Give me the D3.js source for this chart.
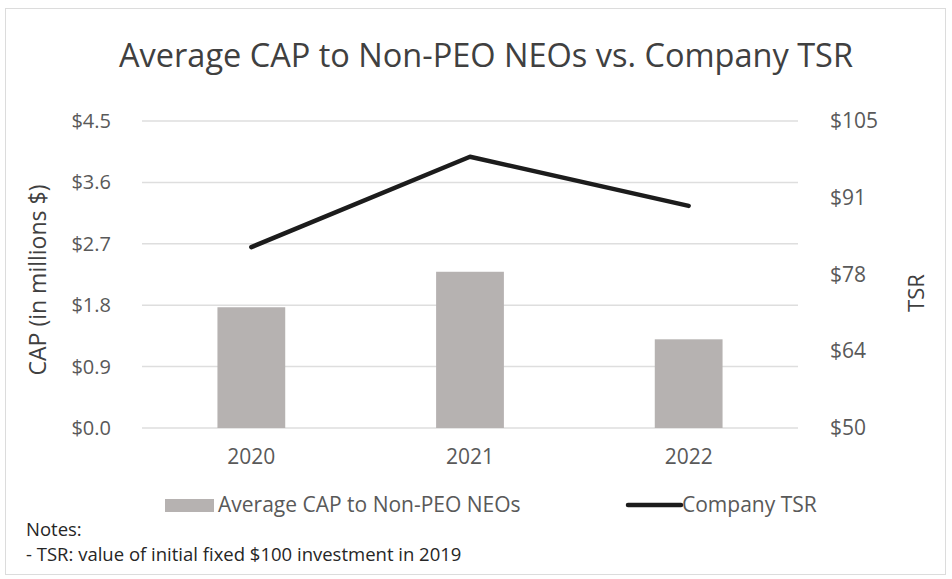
<!DOCTYPE html>
<html>
<head>
<meta charset="utf-8">
<script src="https://cdn.jsdelivr.net/npm/d3@7"></script>
<style>
  body { margin: 0; background: #fff; }
  text { font-family: "Open Sans", "DejaVu Sans", sans-serif; }
</style>
</head>
<body>
<script>
// chart values
var years = ["2020", "2021", "2022"];
var capValues = [1.77, 2.29, 1.30];       // Average CAP to Non-PEO NEOs, millions $
var tsrValues = [82.4, 98.6, 89.8];       // Company TSR
var capTicks = [0, 0.9, 1.8, 2.7, 3.6, 4.5];
var tsrTicks = [50, 63.75, 77.5, 91.25, 105];

var width = 952, height = 579;
var plotLeft = 142, plotRight = 798, plotTop = 121, plotBottom = 428;

var canvas = d3.select("body").append("svg")
    .attr("width", width)
    .attr("height", height);

window.onload = function(){
    setup();
};

function setup(){
    drawFrame();
    drawChart();
    drawLegend();
    drawNotes();
}

function drawFrame(){
    canvas.append("rect")
        .attr("x", 5.5)
        .attr("y", 8.5)
        .attr("width", 940)
        .attr("height", 566)
        .attr("fill", "#fff")
        .attr("stroke", "#dcdcdc");

    canvas.append("text")
        .attr("x", 486)
        .attr("y", 67)
        .attr("text-anchor", "middle")
        .attr("font-size", 32.5)
        .attr("fill", "#404040")
        .text("Average CAP to Non-PEO NEOs vs. Company TSR");
}

function drawChart(){
    var x = d3.scaleBand()
        .domain(years)
        .range([plotLeft, plotRight])
        .paddingInner(0.69)
        .paddingOuter(0.345);

    var yCap = d3.scaleLinear()
        .domain([0, 4.5])
        .range([plotBottom, plotTop]);

    var yTsr = d3.scaleLinear()
        .domain([50, 105])
        .range([plotBottom, plotTop]);

    // gridlines
    canvas.append("g")
        .selectAll("line")
        .data(capTicks)
        .enter().append("line")
        .attr("x1", plotLeft)
        .attr("x2", plotRight)
        .attr("y1", function(d){ return yCap(d); })
        .attr("y2", function(d){ return yCap(d); })
        .attr("stroke", "#dedede")
        .attr("stroke-width", 1.5);

    // left axis
    var leftAxis = canvas.append("g")
        .attr("transform", "translate(" + (plotLeft - 28) + ",0)")
        .call(d3.axisLeft(yCap).tickValues(capTicks).tickSize(0)
            .tickFormat(function(d){ return "$" + d3.format(".1f")(d); }));
    styleAxis(leftAxis, 20);

    // right axis
    var rightAxis = canvas.append("g")
        .attr("transform", "translate(" + (plotRight + 29) + ",0)")
        .call(d3.axisRight(yTsr).tickValues(tsrTicks).tickSize(0)
            .tickFormat(function(d){ return "$" + Math.round(d); }));
    styleAxis(rightAxis, 21);

    // bottom axis
    var bottomAxis = canvas.append("g")
        .attr("transform", "translate(0," + (plotBottom + 18) + ")")
        .call(d3.axisBottom(x).tickSize(0));
    styleAxis(bottomAxis, 21);

    // bars
    canvas.append("g")
        .selectAll("rect")
        .data(capValues)
        .enter().append("rect")
        .attr("x", function(d, i){ return x(years[i]); })
        .attr("y", function(d){ return yCap(d); })
        .attr("width", x.bandwidth())
        .attr("height", function(d){ return yCap(0) - yCap(d); })
        .attr("fill", "#b6b2b1");

    // TSR line
    var line = d3.line()
        .x(function(d, i){ return x(years[i]) + x.bandwidth() / 2; })
        .y(function(d){ return yTsr(d); });

    canvas.append("path")
        .datum(tsrValues)
        .attr("d", line)
        .attr("fill", "none")
        .attr("stroke", "#1c1c1c")
        .attr("stroke-width", 4.5)
        .attr("stroke-linecap", "round")
        .attr("stroke-linejoin", "round");

    // axis titles
    canvas.append("text")
        .attr("transform", "translate(46,280) rotate(-90)")
        .attr("text-anchor", "middle")
        .attr("font-size", 23)
        .attr("fill", "#404040")
        .text("CAP (in millions $)");

    canvas.append("text")
        .attr("transform", "translate(924,293) rotate(-90)")
        .attr("text-anchor", "middle")
        .attr("font-size", 22)
        .attr("fill", "#404040")
        .text("TSR");
}

function styleAxis(g, size){
    g.select(".domain").remove();
    g.selectAll("text")
        .attr("font-family", "'Open Sans', sans-serif")
        .attr("font-size", size)
        .attr("fill", "#595959");
}

function drawLegend(){
    var legendY = 505;

    canvas.append("rect")
        .attr("x", 165)
        .attr("y", legendY - 6)
        .attr("width", 49)
        .attr("height", 13)
        .attr("fill", "#b6b2b1");
    canvas.append("text")
        .attr("x", 218)
        .attr("y", legendY + 7)
        .attr("font-size", 21)
        .attr("fill", "#595959")
        .text("Average CAP to Non-PEO NEOs");

    canvas.append("line")
        .attr("x1", 628)
        .attr("x2", 681)
        .attr("y1", legendY)
        .attr("y2", legendY)
        .attr("stroke", "#1c1c1c")
        .attr("stroke-width", 4.5)
        .attr("stroke-linecap", "round");
    canvas.append("text")
        .attr("x", 682)
        .attr("y", legendY + 7)
        .attr("font-size", 21)
        .attr("fill", "#595959")
        .text("Company TSR");
}

function drawNotes(){
    canvas.append("text")
        .attr("x", 26)
        .attr("y", 536)
        .attr("font-size", 18.5)
        .attr("fill", "#262626")
        .text("Notes:");
    canvas.append("text")
        .attr("x", 26)
        .attr("y", 561)
        .attr("font-size", 18.5)
        .attr("fill", "#262626")
        .text("- TSR: value of initial fixed $100 investment in 2019");
}
</script>
</body>
</html>
